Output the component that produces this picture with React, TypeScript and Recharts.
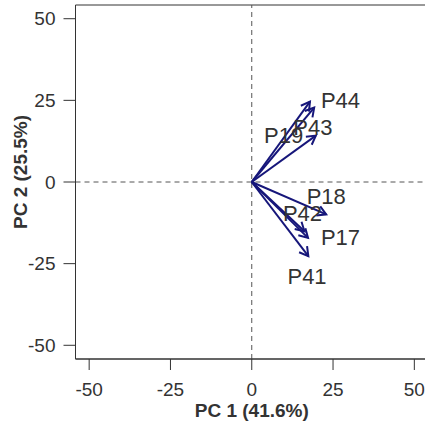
import React from 'react';
import { ScatterChart, Scatter, XAxis, YAxis, ReferenceLine, ReferenceArea } from 'recharts';

const variables = ['P44', 'P43', 'P19', 'P18', 'P42', 'P17', 'P41'];
const pc1 = [17.9, 19.2, 19.7, 22.9, 16.2, 17.3, 17.4];
const pc2 = [24.6, 22.8, 14.2, -9.9, -15.1, -17.1, -22.7];
const labelPc1 = [27.3, 18.8, 9.8, 22.9, 15.6, 27.3, 17.0];
const labelPc2 = [25.0, 16.6, 14.3, -4.3, -9.5, -17.1, -28.8];
const axisTicks = [-50, -25, 0, 25, 50];
const axisLimit = 54.2;
const xTitle = 'PC 1 (41.6%)';
const yTitle = 'PC 2 (25.5%)';

const labelData = variables.map((name, i) => ({ name, x: labelPc1[i], y: labelPc2[i] }));

const FONT = '"Liberation Sans", Arial, sans-serif';
const ARROW = '#16167a';
const INK = '#333333';

const arrowShape = (p: any) => {
  const { x1, y1, x2, y2 } = p;
  const ang = Math.atan2(y2 - y1, x2 - x1);
  const len = 10;
  const spread = Math.PI / 6;
  const ax = x2 - len * Math.cos(ang - spread);
  const ay = y2 - len * Math.sin(ang - spread);
  const bx = x2 - len * Math.cos(ang + spread);
  const by = y2 - len * Math.sin(ang + spread);
  return (
    <g>
      <line x1={x1} y1={y1} x2={x2} y2={y2} stroke={ARROW} strokeWidth={2} />
      <polyline points={`${ax},${ay} ${x2},${y2} ${bx},${by}`} fill="none" stroke={ARROW} strokeWidth={2} strokeLinejoin="miter" />
    </g>
  );
};

const labelShape = (p: any) => (
  <text x={p.cx} y={p.cy} textAnchor="middle" dominantBaseline="central" fontSize={22} fontFamily={FONT} fill={INK}>
    {p.payload.name}
  </text>
);

export default function App() {
  return (
    <div style={{ position: 'absolute', left: 0, top: 0, width: 425, height: 428, overflow: 'hidden', background: '#fff' }}>
      <ScatterChart width={435} height={428} margin={{ top: 5, right: 7, bottom: 0, left: 0 }}>
        <XAxis
          type="number"
          dataKey="x"
          domain={[-axisLimit, axisLimit]}
          allowDataOverflow
          ticks={axisTicks}
          height={69}
          tickSize={11}
          tickMargin={13}
          axisLine={{ stroke: INK }}
          tickLine={{ stroke: INK }}
          tick={{ fill: INK, fontSize: 19, fontFamily: FONT }}
          label={{
            content: (props: any) => {
              const vb = props.viewBox;
              return (
                <text x={vb.x + vb.width / 2} y={vb.y + 58} textAnchor="middle" fontSize={19} fontWeight="bold" fontFamily={FONT} fill={INK}>
                  {xTitle}
                </text>
              );
            },
          }}
        />
        <YAxis
          type="number"
          dataKey="y"
          domain={[-axisLimit, axisLimit]}
          allowDataOverflow
          ticks={axisTicks}
          width={75.5}
          tickSize={12}
          tickMargin={8}
          axisLine={{ stroke: INK }}
          tickLine={{ stroke: INK }}
          tick={{ fill: INK, fontSize: 19, fontFamily: FONT }}
          label={{
            content: (props: any) => {
              const vb = props.viewBox;
              const cx = 20;
              const cy = vb.y + vb.height / 2 - 10;
              return (
                <text x={cx} y={cy} transform={`rotate(-90 ${cx} ${cy})`} textAnchor="middle" dominantBaseline="central" fontSize={19} fontWeight="bold" fontFamily={FONT} fill={INK}>
                  {yTitle}
                </text>
              );
            },
          }}
        />
        <ReferenceArea x1={-axisLimit} x2={axisLimit} y1={-axisLimit} y2={axisLimit} fill="none" stroke={INK} strokeWidth={1} />
        <ReferenceLine x={0} stroke="#555" strokeDasharray="5 4" />
        <ReferenceLine y={0} stroke="#555" strokeDasharray="5 4" />
        {variables.map((v, i) => (
          <ReferenceLine
            key={v}
            segment={[{ x: 0, y: 0 }, { x: pc1[i], y: pc2[i] }]}
            shape={arrowShape}
          />
        ))}
        <Scatter data={labelData} shape={labelShape} isAnimationActive={false} />
      </ScatterChart>
    </div>
  );
}
